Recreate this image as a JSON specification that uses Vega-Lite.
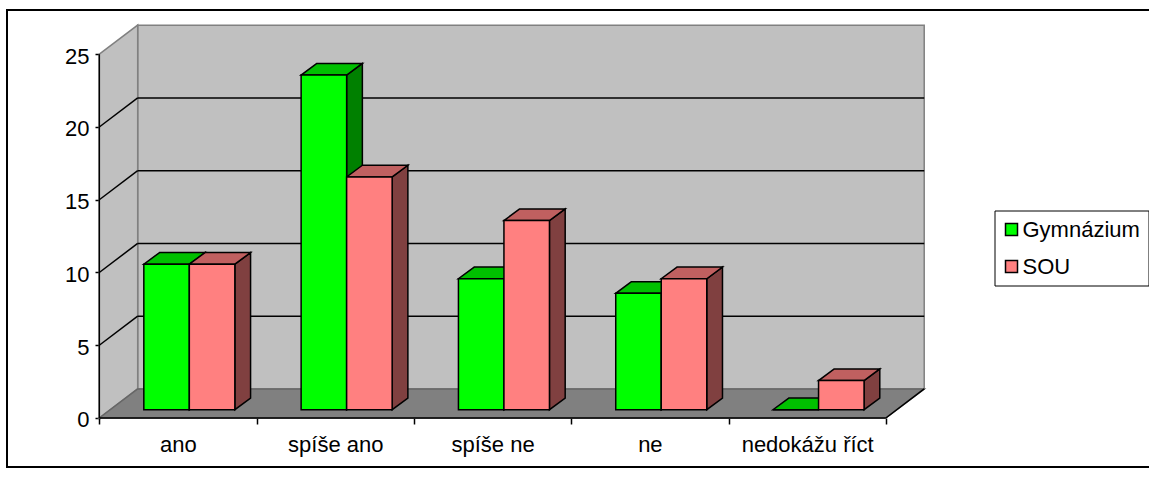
{
"$schema":"https://vega.github.io/schema/vega-lite/v6.json",
"width":1142,"height":457,
"autosize":"none",
"padding":{"left":7,"top":10,"right":0,"bottom":15},
"background":"white",
"view":{"stroke":null},
"config":{"font":"Liberation Sans"},
"datasets":{
"bars":[
{"category":"ano","series":"Gymnázium","value":10},
{"category":"ano","series":"SOU","value":10},
{"category":"spíše ano","series":"Gymnázium","value":23},
{"category":"spíše ano","series":"SOU","value":16},
{"category":"spíše ne","series":"Gymnázium","value":9},
{"category":"spíše ne","series":"SOU","value":13},
{"category":"ne","series":"Gymnázium","value":8},
{"category":"ne","series":"SOU","value":9},
{"category":"nedokážu říct","series":"Gymnázium","value":0},
{"category":"nedokážu říct","series":"SOU","value":2}
],
"ticks":[{"v":5},{"v":10},{"v":15},{"v":20}],
"one":[{"v":0}],
"two":[{"t":0},{"t":1}]
},
"encoding":{
"x":{"field":"x","type":"quantitative","stack":null,"scale":{"domain":[-0.5868,6.673],"nice":false,"zero":false},
"axis":{"title":null,"orient":"bottom","offset":-49,"grid":false,"domain":false,"values":[0,0.5,1,1.5,2,2.5,3,3.5,4,4.5,5],
"tickSize":6,"tickWidth":1.5,"tickColor":"black","tickOpacity":{"condition":{"test":"datum.value % 1 === 0","value":1},"value":0},
"labelExpr":"datum.value % 1 === 0 ? '' : ['ano','spíše ano','spíše ne','ne','nedokážu říct'][floor(datum.value)]",
"labelFontSize":22,"labelColor":"black","labelPadding":10,"labelFlush":false,"labelOverlap":false,"labelFont":"Liberation Sans"}},
"y":{"field":"y","type":"quantitative","stack":null,"scale":{"domain":[-3.368,28.04],"nice":false,"zero":false},
"axis":{"title":null,"orient":"left","offset":-93,"grid":false,"domain":false,"values":[0,5,10,15,20,25],
"tickSize":5,"tickWidth":1.5,"tickColor":"black","labelFontSize":22,"labelColor":"black","labelPadding":6,"labelOffset":2,"labelFont":"Liberation Sans"}}
},
"layer":[
{"data":{"name":"one"},
"transform":[{"calculate":"-0.5868","as":"x"},{"calculate":"7","as":"x2"},{"calculate":"-3.368","as":"y"},{"calculate":"28.04","as":"y2"}],
"mark":{"type":"rect","fill":"transparent","stroke":"black","strokeWidth":2},
"encoding":{"x2":{"field":"x2"},"y2":{"field":"y2"}}},
{"data":{"name":"one"},
"transform":[{"calculate":"0.244","as":"x"},{"calculate":"5.244","as":"x2"},{"calculate":"2","as":"y"},{"calculate":"27","as":"y2"}],
"mark":{"type":"rect","fill":"#C0C0C0","stroke":"#808080","strokeWidth":1.5},
"encoding":{"x2":{"field":"x2"},"y2":{"field":"y2"}}},
{"data":{"name":"two"},
"transform":[{"calculate":"datum.t*0.244","as":"x"},{"calculate":"datum.t*2","as":"y"},{"calculate":"25+datum.t*2","as":"y2"}],
"mark":{"type":"area","fill":"#C0C0C0","stroke":"#808080","strokeWidth":1.5},
"encoding":{"y2":{"field":"y2"}}},
{"data":{"name":"two"},
"transform":[{"calculate":"datum.t*0.244","as":"x"},{"calculate":"5+datum.t*0.244","as":"x2"},{"calculate":"datum.t*2","as":"y"}],
"mark":{"type":"area","orient":"horizontal","fill":"#808080","stroke":"#666666","strokeWidth":1.5},
"encoding":{"x2":{"field":"x2"}}},
{"data":{"name":"ticks"},
"transform":[{"calculate":"0.244","as":"x"},{"calculate":"5.244","as":"x2"},{"calculate":"datum.v+2","as":"y"},{"calculate":"datum.v+2","as":"y2"}],
"mark":{"type":"rule","color":"black","strokeWidth":1.5},
"encoding":{"x2":{"field":"x2"},"y2":{"field":"y2"}}},
{"data":{"name":"ticks"},
"transform":[{"calculate":"0","as":"x"},{"calculate":"0.244","as":"x2"},{"calculate":"datum.v","as":"y"},{"calculate":"datum.v+2","as":"y2"}],
"mark":{"type":"rule","color":"black","strokeWidth":1.5},
"encoding":{"x2":{"field":"x2"},"y2":{"field":"y2"}}},
{"data":{"name":"one"},
"transform":[{"calculate":"0","as":"x"},{"calculate":"0","as":"x2"},{"calculate":"0","as":"y"},{"calculate":"25","as":"y2"}],
"mark":{"type":"rule","color":"black","strokeWidth":1.5},
"encoding":{"x2":{"field":"x2"},"y2":{"field":"y2"}}},
{"data":{"name":"one"},
"transform":[{"calculate":"0","as":"x"},{"calculate":"5","as":"x2"},{"calculate":"0","as":"y"},{"calculate":"0","as":"y2"}],
"mark":{"type":"rule","color":"black","strokeWidth":1.5},
"encoding":{"x2":{"field":"x2"},"y2":{"field":"y2"}}},
{"data":{"name":"one"},
"transform":[{"calculate":"5","as":"x"},{"calculate":"5.244","as":"x2"},{"calculate":"0","as":"y"},{"calculate":"2","as":"y2"}],
"mark":{"type":"rule","color":"black","strokeWidth":1.5},
"encoding":{"x2":{"field":"x2"},"y2":{"field":"y2"}}},
{"data":{"name":"bars"},
"transform":[
{"calculate":"indexof(['ano','spíše ano','spíše ne','ne','nedokážu říct'],datum.category)+0.283+(datum.series==='SOU'?0.2893:0)","as":"xl"},
{"calculate":"[0,1]","as":"t"},{"flatten":["t"]},
{"calculate":"datum.xl+0.2893+datum.t*0.1","as":"x"},
{"calculate":"0.57+datum.value+datum.t*0.8","as":"y"},
{"calculate":"0.57+datum.t*0.8","as":"y2"}],
"mark":{"type":"area","stroke":"black","strokeWidth":1.5},
"encoding":{"y2":{"field":"y2"},"detail":[{"field":"category"},{"field":"series"}],
"fill":{"condition":{"test":"datum.series==='SOU'","value":"#804040"},"value":"#008000"}}},
{"data":{"name":"bars"},
"transform":[
{"calculate":"indexof(['ano','spíše ano','spíše ne','ne','nedokážu říct'],datum.category)+0.283+(datum.series==='SOU'?0.2893:0)","as":"xl"},
{"calculate":"[0,1]","as":"t"},{"flatten":["t"]},
{"calculate":"datum.xl+datum.t*0.1","as":"x"},
{"calculate":"datum.xl+0.2893+datum.t*0.1","as":"x2"},
{"calculate":"0.57+datum.value+datum.t*0.8","as":"y"}],
"mark":{"type":"area","orient":"horizontal","stroke":"black","strokeWidth":1.5},
"encoding":{"x2":{"field":"x2"},"detail":[{"field":"category"},{"field":"series"}],
"fill":{"condition":{"test":"datum.series==='SOU'","value":"#C06060"},"value":"#00C000"}}},
{"data":{"name":"bars"},
"transform":[
{"calculate":"indexof(['ano','spíše ano','spíše ne','ne','nedokážu říct'],datum.category)+0.283+(datum.series==='SOU'?0.2893:0)","as":"x"},
{"calculate":"datum.x+0.2893","as":"x2"},
{"calculate":"0.57","as":"y"},
{"calculate":"0.57+datum.value","as":"y2"}],
"mark":{"type":"rect","stroke":"black","strokeWidth":1.5},
"encoding":{"x2":{"field":"x2"},"y2":{"field":"y2"},
"fill":{"field":"series","type":"nominal","scale":{"domain":["Gymnázium","SOU"],"range":["#00FF00","#FF8080"]},
"legend":{"title":null,"orient":"none","legendX":987.5,"legendY":200.5,"fillColor":"white","strokeColor":"black","padding":8,
"encoding":{"legend":{"update":{"strokeWidth":{"value":2}}}},
"symbolType":"square","symbolSize":144,"symbolOffset":-2,"symbolStrokeColor":"black","symbolStrokeWidth":1.5,"symbolOpacity":1,
"labelFontSize":22,"labelColor":"black","labelFont":"Liberation Sans","labelOffset":0,"rowPadding":15}}}}
]
}
